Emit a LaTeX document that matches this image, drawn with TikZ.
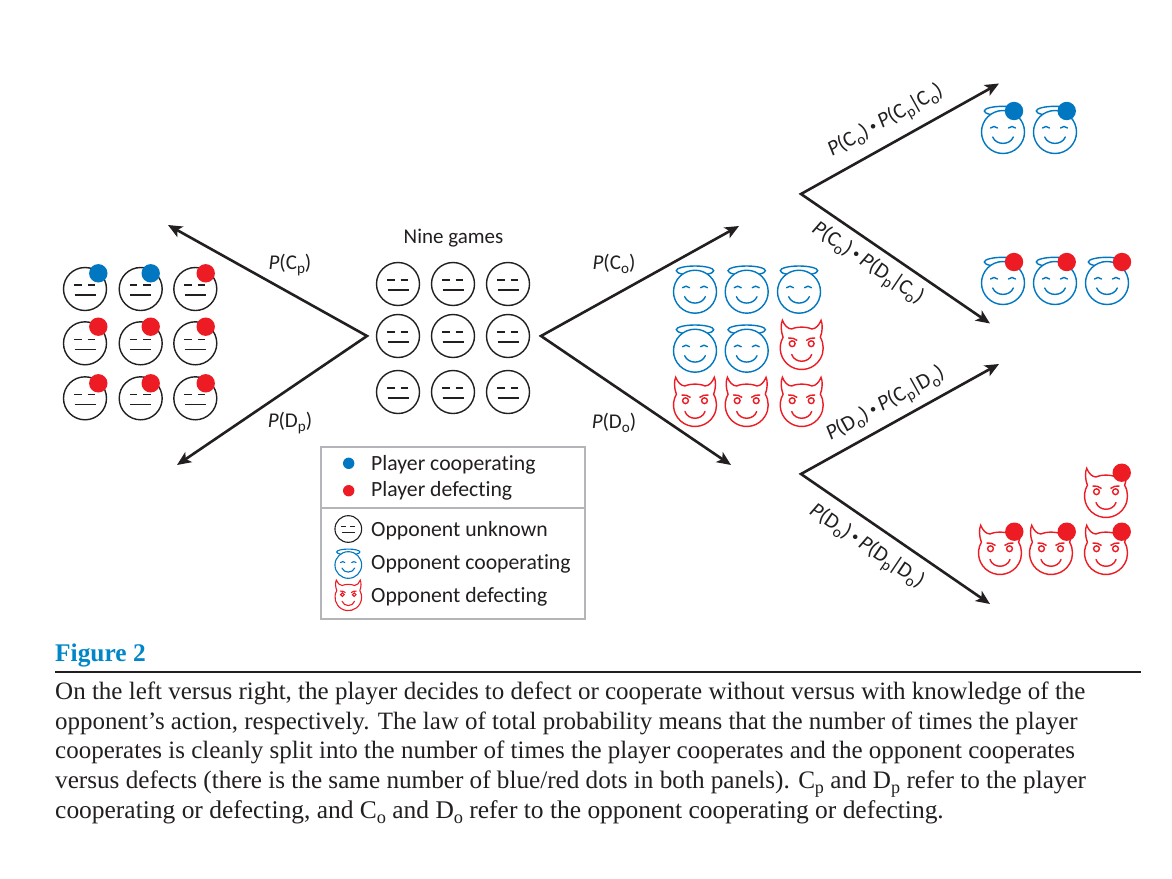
\documentclass[tikz,border=0pt]{standalone}
\usepackage{fontspec}
\usetikzlibrary{arrows.meta}
\setmainfont{Liberation Serif}
\newfontfamily\lab[Ligatures=NoCommon]{Carlito}
\definecolor{ink}{HTML}{231F20}
\definecolor{pblue}{HTML}{0077C0}
\definecolor{pred}{HTML}{ED1C24}
\definecolor{fblue}{HTML}{0087C7}
\definecolor{boxg}{HTML}{B4B5B8}
\newcommand{\lowsub}[1]{\raisebox{-.22em}{\scalebox{.72}{#1}}}
\newcommand{\Pp}{\textit{P}}
\newcommand{\Bu}{\,\raisebox{.12em}{\scalebox{.6}{•}}\,}
\newcommand{\Vb}{\kern-.06em|\kern-.06em}
\def\flw{1.4pt}
\tikzset{
  x=1pt,y=1pt,
  pics/unk/.style={code={
    \draw[ink,line width=\flw,fill=white] (0,0) circle[radius=21.5pt];
    \draw[ink,line width=\flw] (-11,4)--(-3.3,4) (2.5,4)--(10,4) (-10.5,-6)--(10.5,-6);
  }},
  pics/angel/.style={code={
    \draw[pblue,line width=\flw] (0,21) ellipse[x radius=18.7pt,y radius=4.7pt];
    \draw[pblue,line width=\flw,fill=white] (0,0) circle[radius=21.5pt];
    \draw[pblue,line width=\flw,line cap=round]
      (-12.5,4) .. controls (-10.5,6) and (-7.5,6) .. (-5.5,4)
      (5.5,4) .. controls (7.5,6) and (10.5,6) .. (12.5,4)
      (-10.3,-5) .. controls (-7,-13.5) and (7,-13.5) .. (10.3,-5);
  }},
  pics/devil/.style={code={
    \draw[pred,line width=\flw,fill=white,line join=miter]
      (150:21.5pt) arc[start angle=150,end angle=390,radius=21.5pt]
      .. controls (21,17) and (21,24) .. (19.3,27.7)
      .. controls (17.5,23) and (14,19) .. (10,19)
      .. controls (5,21.5) and (-5,21.5) .. (-10,19)
      .. controls (-14,19) and (-17.5,23) .. (-19.3,27.7)
      .. controls (-21,24) and (-21,17) .. (150:21.5pt) -- cycle;
    \draw[pred,line width=\flw] (-9.5,4.3) circle[radius=2.9pt] (9.5,4.3) circle[radius=2.9pt];
    \draw[pred,line width=\flw]
      (-13.5,10) .. controls (-10,10.5) and (-7,9.5) .. (-4.5,7.5)
      (13.5,10) .. controls (10,10.5) and (7,9.5) .. (4.5,7.5);
    \draw[pred,line width=\flw,line cap=round]
      (-10,-6.5) .. controls (-7,-15.5) and (7,-15.5) .. (10,-6.5);
  }},
  arrowline/.style={ink,line width=2.6pt,line join=miter,miter limit=20,{Stealth[length=14pt,width=12pt,inset=3.5pt]}-{Stealth[length=14pt,width=12pt,inset=3.5pt]}},
  lbl/.style={text=ink,font=\lab\fontsize{21}{25}\selectfont,inner sep=0pt},
  rotlbl/.style={text=ink,font=\lab\fontsize{21.5}{25}\selectfont,inner sep=0pt},
  leg/.style={text=ink,font=\lab\fontsize{21.7}{25}\selectfont,inner sep=0pt,anchor=base west},
  captext/.style={text=ink,font=\fontsize{25}{29}\selectfont,inner sep=0pt,anchor=base west},
  bdot/.style={fill=pblue},
  rdot/.style={fill=pred},
}
\begin{document}
\begin{tikzpicture}
\useasboundingbox (0,0) rectangle (1172,-878);
\fill[white] (0,0) rectangle (1172,-878);

% left grid
\foreach \x in {85,140.7,195.3} \foreach \y in {289,343.3,398.3} \pic at (\x,-\y) {unk};
\foreach \x/\y in {98.3/273.3,150.7/273.3} \fill[bdot] (\x,-\y) circle[radius=9.2pt];
\foreach \x/\y in {205.7/273.3,98.3/326.7,150.7/326.7,205.7/326.7,98.3/383.3,150.7/383.3,205.7/383.3} \fill[rdot] (\x,-\y) circle[radius=9.2pt];

% middle grid
\foreach \x in {398,453,508} \foreach \y in {284,336,392} \pic at (\x,-\y) {unk};
\node[lbl] (nine) at (453.5,-238) {Nine games};

% outcome grid
\foreach \x/\y in {695/291.7,746.7/291.7,799/291.7,695/350.7,746.7/350.7} \pic at (\x,-\y) {angel};
\foreach \x/\y in {801.7/348,695/405,746.7/405,801.7/405} \pic at (\x,-\y) {devil};

% right faces
\foreach \x/\y in {1003/132,1055/132,1003/283,1055/283,1107/283} \pic at (\x,-\y) {angel};
\foreach \x/\y in {1000/553,1051/553,1106/553,1106/496} \pic at (\x,-\y) {devil};
\foreach \x/\y in {1014/111,1066.7/111} \fill[bdot] (\x,-\y) circle[radius=9.2pt];
\foreach \x/\y in {1014/262,1066.7/262,1122/262,1014.3/531.7,1066.7/531.7,1121.7/531.7,1121.7/472.7} \fill[rdot] (\x,-\y) circle[radius=9.2pt];

% arrow anchors
\coordinate (a1) at (367,-336);
\coordinate (a1u) at (168,-225);
\coordinate (a1d) at (177,-465);
\coordinate (a2) at (541,-336);
\coordinate (a2u) at (739,-226);
\coordinate (a2d) at (731,-465);
\coordinate (a3) at (801,-194);
\coordinate (a3u) at (999,-83.5);
\coordinate (a3d) at (990,-323.5);
\coordinate (a4) at (801,-474);
\coordinate (a4u) at (999,-364);
\coordinate (a4d) at (990,-604);
\draw[arrowline] (a1u) -- (a1) -- (a1d);
\draw[arrowline] (a2u) -- (a2) -- (a2d);
\draw[arrowline] (a3u) -- (a3) -- (a3d);
\draw[arrowline] (a4u) -- (a4) -- (a4d);

% arrow labels
\node[lbl] (lcp) at (290,-265) {\Pp(C\lowsub{p})};
\node[lbl] (ldp) at (290,-423) {\Pp(D\lowsub{p})};
\node[lbl] (lco) at (614,-264) {\Pp(C\lowsub{o})};
\node[lbl] (ldo) at (614,-423) {\Pp(D\lowsub{o})};
\node[rotlbl,rotate=29] (r1) at (886,-122) {\Pp(C\lowsub{o})\Bu\Pp(C\lowsub{p}\Vb C\lowsub{o})};
\node[rotlbl,rotate=-34] (r2) at (867,-264) {\Pp(C\lowsub{o})\Bu\Pp(D\lowsub{p}\Vb C\lowsub{o})};
\node[rotlbl,rotate=29] (r3) at (886,-405) {\Pp(D\lowsub{o})\Bu\Pp(C\lowsub{p}\Vb D\lowsub{o})};
\node[rotlbl,rotate=-34] (r4) at (866,-547) {\Pp(D\lowsub{o})\Bu\Pp(D\lowsub{p}\Vb D\lowsub{o})};

% legend
\draw[boxg,line width=1.5pt] (321,-447) rectangle (585,-619) (321,-508) -- (585,-508);
\fill[bdot] (348.7,-463.3) circle[radius=5.7pt];
\fill[rdot] (348.7,-490.7) circle[radius=5.7pt];
\begin{scope}
\def\flw{1.1pt}
\pic[scale=.62] at (348.3,-529) {unk};
\pic[scale=.62] at (348.3,-565) {angel};
\pic[scale=.62] at (348.3,-597.3) {devil};
\end{scope}
\node[leg] (g1) at (371,-470) {Player cooperating};
\node[leg] (g2) at (371,-496) {Player defecting};
\node[leg] (g3) at (371,-536) {Opponent unknown};
\node[leg] (g4) at (371,-569) {Opponent cooperating};
\node[leg] (g5) at (371,-602) {Opponent defecting};

% caption
\node[captext,text=fblue,font=\bfseries\fontsize{25.4}{29}\selectfont] (ft) at (55,-661) {Figure 2};
\draw[ink,line width=2pt] (55,-672) -- (1141,-672);
\node[captext] (c1) at (55,-699) {On the left versus right, the player decides to defect or cooperate without versus with knowledge of the};
\node[captext,font=\fontsize{24.95}{29}\selectfont] (c2) at (55,-729) {opponent’s action, respectively. The law of total probability means that the number of times the player};
\node[captext] (c3) at (55,-758) {cooperates is cleanly split into the number of times the player cooperates and the opponent cooperates};
\node[captext,font=\fontsize{25.17}{29}\selectfont] (c4) at (55,-788) {versus defects (there is the same number of blue/red dots in both panels). C\lowsub{p} and D\lowsub{p} refer to the player};
\node[captext,font=\fontsize{25.46}{29}\selectfont] (c5) at (55,-818) {cooperating or defecting, and C\lowsub{o} and D\lowsub{o} refer to the opponent cooperating or defecting.};
\end{tikzpicture}
\end{document}
